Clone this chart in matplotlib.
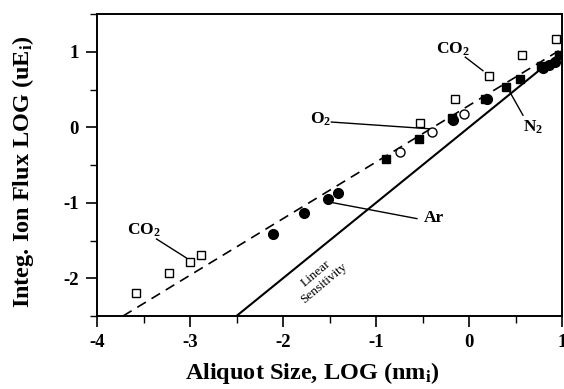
import matplotlib
matplotlib.use("Agg")
import matplotlib.pyplot as plt
from matplotlib.ticker import MultipleLocator

# CO2 (open squares)
co2_x = [-3.58, -3.23, -3.00, -2.88, -0.53, -0.15, 0.21, 0.57, 0.94]
co2_y = [-2.20, -1.93, -1.78, -1.69, 0.06, 0.37, 0.68, 0.96, 1.17]

# Ar (filled circles)
ar_x = [-2.11, -1.77, -1.52, -1.41, -0.17, 0.19, 0.80, 0.86, 0.92]
ar_y = [-1.41, -1.14, -0.95, -0.87, 0.10, 0.37, 0.79, 0.82, 0.86]

# N2 (filled squares)
n2_x = [-0.89, -0.54, -0.18, 0.17, 0.40, 0.55, 0.77, 0.97]
n2_y = [-0.42, -0.15, 0.12, 0.38, 0.53, 0.64, 0.81, 0.96]

# O2 (open circles)
o2_x = [-0.74, -0.40, -0.05]
o2_y = [-0.33, -0.06, 0.17]

# fitted (dashed) and linear sensitivity (solid) lines
fit_x = [-3.72, 1.0]
fit_y = [-2.50, 1.04]
lin_x = [-2.5, 1.0]
lin_y = [-2.5, 1.0]

# labels: text, text position, leader line start/end
labels = [
    ("CO$_2$", (-3.50, -1.37), (-3.36, -1.48), (-3.04, -1.73)),
    ("CO$_2$", (-0.17, 1.04), (-0.04, 0.93), (0.15, 0.75)),
    ("O$_2$", (-1.60, 0.11), (-1.48, 0.07), (-0.42, -0.02)),
    ("N$_2$", (0.69, 0.00), (0.42, 0.51), (0.58, 0.16)),
    ("Ar", (-0.38, -1.20), (-1.46, -1.00), (-0.56, -1.21)),
]

plt.rcParams["font.family"] = ["Liberation Serif", "DejaVu Serif"]
plt.rcParams["font.weight"] = "bold"
plt.rcParams["mathtext.fontset"] = "custom"
plt.rcParams["mathtext.rm"] = "Liberation Serif:bold"
plt.rcParams["mathtext.it"] = "Liberation Serif:bold"
plt.rcParams["mathtext.bf"] = "Liberation Serif:bold"
plt.rcParams["axes.unicode_minus"] = False

fig = plt.figure(figsize=(5.64, 3.89), dpi=100)
ax = fig.add_axes([0.172, 0.1877, 0.8245, 0.776])

ax.plot(fit_x, fit_y, color="black", lw=1.2, dashes=(6, 4), zorder=2)
ax.plot(lin_x, lin_y, color="black", lw=1.5, zorder=2)

ax.plot(co2_x, co2_y, "s", ms=5.5, mfc="white", mec="black", mew=1.0, ls="none", zorder=3)
ax.plot(o2_x, o2_y, "o", ms=6.5, mfc="white", mec="black", mew=1.0, ls="none", zorder=3)
ax.plot(n2_x, n2_y, "s", ms=6, mfc="black", mec="black", ls="none", zorder=4)
ax.plot(ar_x, ar_y, "o", ms=7, mfc="black", mec="black", ls="none", zorder=4)

for txt, pos, p0, p1 in labels:
    ax.text(pos[0], pos[1], txt, fontsize=12.5, fontweight="bold", ha="center", va="center")
    ax.plot([p0[0], p1[0]], [p0[1], p1[1]], color="black", lw=1.0, zorder=2)

ax.text(-1.60, -2.0, "Linear\nSensitivity", fontsize=9.5, fontweight="normal",
        rotation=40, ha="center", va="center", linespacing=1.0)

ax.set_xlim(-4, 1)
ax.set_ylim(-2.5, 1.5)
ax.xaxis.set_major_locator(MultipleLocator(1))
ax.xaxis.set_minor_locator(MultipleLocator(0.5))
ax.yaxis.set_major_locator(MultipleLocator(1))
ax.yaxis.set_minor_locator(MultipleLocator(0.5))
ax.tick_params(which="major", direction="out", length=8, width=1.2, labelsize=13.5, pad=5)
ax.tick_params(which="minor", direction="out", length=5, width=1.0)
for lab in ax.get_xticklabels() + ax.get_yticklabels():
    lab.set_fontweight("bold")
for sp in ax.spines.values():
    sp.set_linewidth(1.4)

ax.set_xlabel("Aliquot Size, LOG (nm$_i$)", fontsize=17.5, fontweight="bold")
ax.set_ylabel("Integ. Ion Flux LOG (uE$_i$)", fontsize=17.5, fontweight="bold")
ax.xaxis.set_label_coords(0.462, -0.145)
ax.yaxis.set_label_coords(-0.132, 0.477)

fig.savefig("out.png", dpi=100)
